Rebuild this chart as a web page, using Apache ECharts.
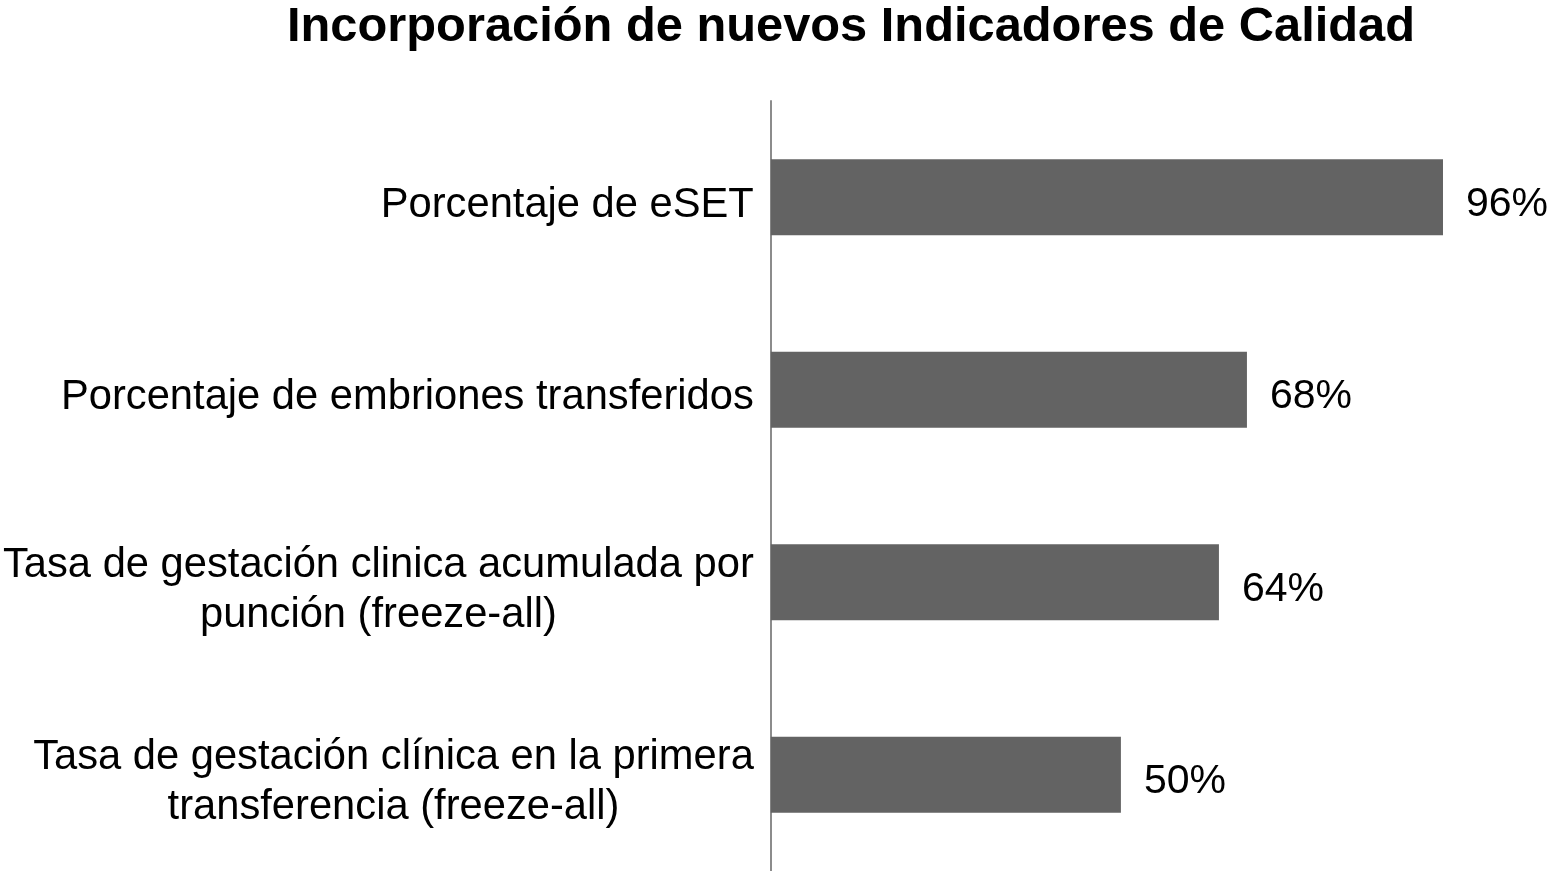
<!DOCTYPE html>
<html>
<head>
<meta charset="utf-8">
<script src="https://cdn.jsdelivr.net/npm/echarts@6/dist/echarts.min.js"></script>
<style>html,body{margin:0;padding:0;background:#fff;}#c{width:1550px;height:871px;}</style>
</head>
<body>
<div id="c"></div>
<script>
const categories = [
  "Porcentaje de eSET",
  "Porcentaje de embriones transferidos",
  "Tasa de gestación clinica acumulada por\npunción (freeze-all)",
  "Tasa de gestación clínica en la primera\ntransferencia (freeze-all)"
];
const values = [96, 68, 64, 50];

const chart = echarts.init(document.getElementById('c'));
chart.setOption({
  backgroundColor: '#ffffff',
  animation: false,
  title: {
    text: 'Incorporación de nuevos Indicadores de Calidad',
    left: 846,
    top: -2,
    textAlign: 'center',
    textStyle: { fontFamily: 'Liberation Sans', fontWeight: 'bold', fontSize: 48.8, color: '#000' }
  },
  grid: { left: 769, right: 79, top: 101, bottom: -3, containLabel: false },
  xAxis: {
    type: 'value', min: 0, max: 100, show: false
  },
  yAxis: {
    type: 'category',
    inverse: true,
    data: categories,
    axisLine: { show: true, lineStyle: { color: '#8c8c8c', width: 2 } },
    axisTick: { show: false },
    axisLabel: {
      margin: 17,
      padding: [16, 0, 0, 0],
      formatter: function (v) {
        return v.split('\n').map(function (l) { return '{a|' + l + '}'; }).join('\n');
      },
      rich: {
        a: { align: 'center', fontFamily: 'Liberation Sans', fontSize: 41.7, lineHeight: 50, color: '#000' }
      }
    }
  },
  series: [{
    type: 'bar',
    data: values,
    barWidth: 76,
    itemStyle: { color: '#636363' },
    label: {
      show: true,
      position: 'right',
      distance: 23,
      offset: [0, 7],
      formatter: '{c}%',
      fontFamily: 'Liberation Sans',
      fontSize: 41,
      color: '#000'
    }
  }]
});
</script>
</body>
</html>
